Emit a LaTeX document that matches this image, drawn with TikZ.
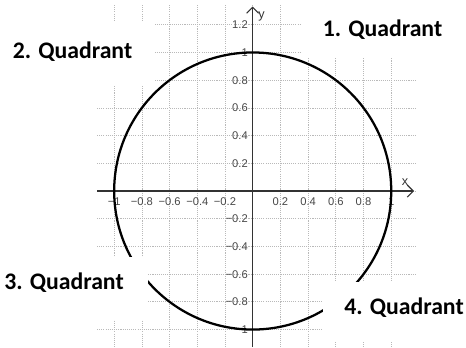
\documentclass[tikz,border=0pt]{standalone}
\usepackage{fontspec}
\setmainfont{Liberation Sans}
\newfontfamily\quadfont{Carlito}
\usetikzlibrary{arrows.meta}
\begin{document}
\begin{tikzpicture}[x=0.75pt,y=-0.75pt,
  gridline/.style={gray!55,line width=0.6pt,dash pattern=on 0.8pt off 0.8pt},
  axisline/.style={black!80,line width=0.8pt,-{Straight Barb[length=4.5pt,width=9pt,line width=0.8pt]}},
  ticklabel/.style={text=black!72,font=\fontsize{8.4pt}{9pt}\selectfont,inner sep=0pt},
  axislabel/.style={text=black!80,font=\fontsize{9.5pt}{10pt}\selectfont,inner sep=0pt},
  quadlabel/.style={font=\quadfont\bfseries\fontsize{17.8pt}{20pt}\selectfont,inner sep=0pt},
  cover/.style={fill=white},
  unitcircle/.style={line width=1.7pt,black}
]
\useasboundingbox (0,0) rectangle (466,347);
\def\orgx{252.7}\def\orgy{191}\def\gu{27.7}
% grid
\foreach \k in {-5,...,5} \draw[gridline] ({\orgx+\gu*\k},5) -- ({\orgx+\gu*\k},347);
\foreach \k in {-5,...,6} \draw[gridline] (97,{\orgy-\gu*\k}) -- (415,{\orgy-\gu*\k});
% axes
\coordinate (xs) at (97,191);
\coordinate (xe) at (414,191);
\coordinate (ys) at (252.7,347);
\coordinate (ye) at (252.7,6.5);
\draw[axisline] (xs) -- (xe);
\draw[axisline] (ys) -- (ye);
\node[axislabel] (xlab) at (405,182) {x};
\node[axislabel] (ylab) at (261.5,16) {y};
% tick labels
\foreach \k/\t in {-5/−1,-4/−0.8,-3/−0.6,-2/−0.4,-1/−0.2,1/0.2,2/0.4,3/0.6,4/0.8,5/1}
  \node[ticklabel,anchor=base] (xt\k) at ({\orgx+\gu*\k},205.8) {\t};
\foreach \k/\t in {-5/−1,-4/−0.8,-3/−0.6,-2/−0.4,-1/−0.2,1/0.2,2/0.4,3/0.6,4/0.8,5/1,6/1.2}
  \node[ticklabel,anchor=base east] (yt\k) at (248,{\orgy-\gu*\k+4}) {\t};
% circle
\draw[unitcircle] (\orgx,\orgy) circle[radius=103.9pt];
% label covers
\fill[cover] (0,22) rectangle (155,85);
\fill[cover] (302,0) rectangle (466,58);
\fill[cover] (0,257) rectangle (148,320);
\fill[cover] (323,282) rectangle (466,342);
% quadrant labels
\node[quadlabel] (q2) at (72.5,52) {2. Quadrant};
\node[quadlabel] (q1) at (382.5,30) {1. Quadrant};
\node[quadlabel] (q3) at (64,283) {3. Quadrant};
\node[quadlabel] (q4) at (404,308) {4. Quadrant};
\end{tikzpicture}
\end{document}
